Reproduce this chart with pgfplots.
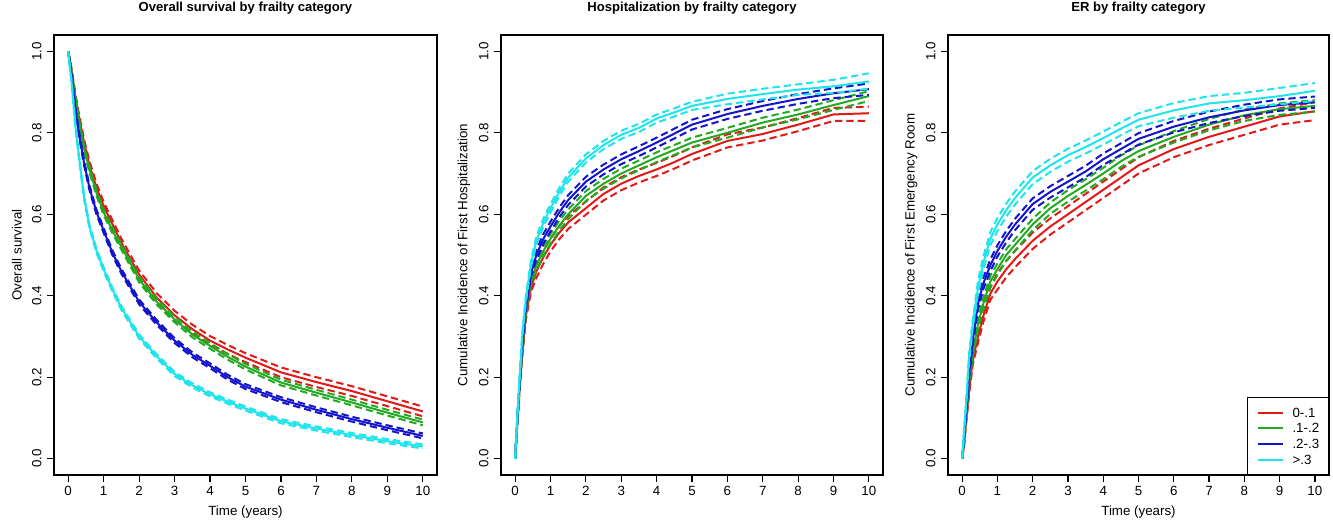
\documentclass[border=0pt]{standalone}
\usepackage{pgfplots}
\pgfplotsset{compat=1.18}
\usepackage{pgfplotstable}
\usepackage{fontspec}
\setmainfont{Liberation Sans}

\definecolor{cR}{RGB}{225,25,25}
\definecolor{cG}{RGB}{34,170,34}
\definecolor{cB}{RGB}{20,20,205}
\definecolor{cC}{RGB}{30,228,235}

% Overall survival
\pgfplotstableread{
t    rl   r    rh   gl   g    gh   bl   b    bh   cl   c    ch
0    1    1    1    1    1    1    1    1    1    1    1    1
0.05 .970 .975 .980 .971 .975 .979 .966 .970 .974 .957 .960 .963
0.1  .945 .950 .955 .944 .948 .952 .936 .940 .944 .917 .920 .923
0.2  .882 .890 .898 .878 .885 .892 .854 .860 .866 .815 .820 .825
0.3  .832 .840 .848 .823 .830 .837 .794 .800 .806 .740 .745 .750
0.45 .767 .775 .783 .753 .760 .767 .719 .725 .731 .635 .640 .645
0.6  .710 .720 .730 .703 .710 .717 .659 .665 .671 .565 .570 .575
0.8  .655 .665 .675 .645 .652 .659 .599 .605 .611 .505 .510 .515
1    .610 .620 .630 .598 .605 .612 .554 .560 .566 .460 .465 .470
1.25 .565 .575 .585 .553 .560 .567 .499 .505 .511 .410 .415 .420
1.5  .520 .530 .540 .513 .520 .527 .454 .460 .466 .365 .370 .375
2    .442 .452 .462 .433 .440 .447 .379 .385 .391 .295 .300 .305
2.5  .384 .395 .406 .378 .385 .392 .328 .334 .340 .246 .251 .256
3    .341 .352 .363 .335 .342 .349 .284 .290 .296 .203 .208 .213
3.5  .307 .318 .329 .298 .305 .312 .249 .255 .261 .175 .180 .185
4    .279 .290 .301 .270 .277 .284 .222 .228 .234 .153 .158 .163
4.5  .257 .268 .279 .243 .250 .257 .194 .200 .206 .135 .140 .145
5    .237 .248 .259 .219 .226 .233 .171 .177 .183 .118 .123 .128
6    .200 .212 .224 .180 .187 .194 .139 .145 .151 .087 .092 .097
7    .176 .188 .200 .155 .162 .169 .114 .120 .126 .069 .074 .079
8    .154 .166 .178 .131 .138 .145 .091 .097 .103 .053 .058 .063
9    .129 .141 .153 .106 .113 .120 .070 .076 .082 .038 .043 .048
10   .104 .116 .128 .082 .089 .096 .050 .056 .062 .025 .030 .035
}\survtab

% Hospitalization
\pgfplotstableread{
t    rl   r    rh   gl   g    gh   bl   b    bh   cl   c    ch
0    0    0    0    0    0    0    0    0    0    0    0    0
0.05 .065 .070 .075 .070 .075 .080 .075 .080 .085 .080 .085 .090
0.1  .135 .140 .145 .145 .150 .155 .145 .150 .155 .155 .160 .165
0.2  .250 .260 .270 .262 .270 .278 .272 .280 .288 .292 .300 .308
0.3  .340 .350 .360 .352 .360 .368 .362 .370 .378 .382 .390 .398
0.45 .410 .420 .430 .427 .435 .443 .447 .455 .463 .472 .480 .488
0.6  .444 .460 .476 .463 .475 .487 .488 .500 .512 .525 .535 .545
0.8  .479 .495 .511 .498 .510 .522 .528 .540 .552 .570 .580 .590
1    .509 .525 .541 .528 .540 .552 .558 .570 .582 .605 .615 .625
1.25 .539 .555 .571 .560 .572 .584 .593 .605 .617 .645 .655 .665
1.5  .564 .580 .596 .588 .600 .612 .623 .635 .647 .680 .690 .700
2    .599 .615 .631 .633 .645 .657 .668 .680 .692 .727 .737 .747
2.5  .634 .650 .666 .663 .675 .687 .698 .710 .722 .760 .770 .780
3    .659 .675 .691 .688 .700 .712 .723 .735 .747 .785 .795 .805
3.5  .678 .694 .710 .708 .720 .732 .743 .755 .767 .802 .812 .822
4    .694 .710 .726 .728 .740 .752 .764 .776 .788 .825 .835 .845
4.5  .712 .728 .744 .746 .758 .770 .786 .798 .810 .840 .850 .860
5    .732 .748 .764 .764 .776 .788 .808 .820 .832 .856 .866 .876
6    .764 .780 .796 .788 .800 .812 .834 .846 .858 .870 .883 .896
7    .781 .797 .813 .813 .825 .837 .854 .866 .878 .882 .895 .908
8    .804 .820 .836 .833 .845 .857 .871 .883 .895 .893 .906 .919
9    .829 .845 .861 .856 .868 .880 .885 .897 .909 .898 .914 .930
10   .829 .848 .864 .878 .890 .902 .893 .907 .921 .908 .926 .946
}\hosptab

% Emergency room
\pgfplotstableread{
t    rl   r    rh   gl   g    gh   bl   b    bh   cl   c    ch
0    0    0    0    0    0    0    0    0    0    0    0    0
0.05 .025 .030 .035 .035 .040 .045 .045 .050 .055 .055 .060 .065
0.1  .075 .080 .085 .085 .090 .095 .095 .100 .105 .115 .120 .125
0.2  .160 .170 .180 .180 .190 .200 .200 .210 .220 .240 .250 .260
0.3  .230 .240 .250 .250 .260 .270 .280 .290 .300 .320 .330 .340
0.45 .285 .300 .315 .316 .330 .344 .366 .380 .394 .404 .420 .436
0.6  .335 .350 .365 .366 .380 .394 .416 .430 .444 .464 .480 .496
0.8  .390 .405 .420 .421 .435 .449 .461 .475 .489 .524 .540 .556
1    .415 .435 .455 .451 .465 .479 .496 .510 .524 .559 .575 .591
1.25 .445 .465 .485 .486 .500 .514 .531 .545 .559 .594 .610 .626
1.5  .470 .490 .510 .511 .525 .539 .561 .575 .589 .624 .640 .656
2    .515 .535 .555 .561 .575 .589 .611 .625 .639 .674 .690 .706
2.5  .550 .570 .590 .601 .615 .629 .641 .655 .669 .704 .720 .736
3    .580 .600 .620 .631 .645 .659 .666 .680 .694 .729 .745 .761
3.5  .610 .630 .650 .658 .672 .686 .691 .705 .719 .749 .765 .781
4    .640 .660 .680 .686 .700 .714 .721 .735 .749 .771 .787 .803
4.5  .670 .690 .710 .716 .730 .744 .746 .760 .774 .794 .810 .826
5    .700 .720 .740 .741 .755 .769 .771 .785 .799 .816 .832 .848
6    .740 .760 .780 .776 .790 .804 .801 .815 .829 .837 .855 .873
7    .770 .790 .810 .806 .820 .834 .824 .838 .852 .854 .872 .890
8    .795 .815 .835 .829 .843 .857 .841 .855 .869 .862 .880 .898
9    .820 .840 .860 .844 .858 .872 .854 .868 .882 .870 .890 .910
10   .831 .853 .875 .852 .866 .880 .861 .875 .889 .878 .903 .922
}\ertab

\pgfplotsset{
  km/.style={
    scale only axis, height=330pt,
    xmin=-0.4, xmax=10.4, ymin=-0.04, ymax=1.04,
    xtick={0,1,2,3,4,5,6,7,8,9,10},
    ytick={0,0.2,0.4,0.6,0.8,1},
    xtick pos=bottom, ytick pos=left,
    tick align=outside, major tick length=5.25pt,
    axis line style={black, line width=0.9pt},
    every tick/.style={black, line width=0.9pt},
    /pgf/number format/assume math mode=true,
    tick label style={font=\fontsize{10}{12}\selectfont, black},
    yticklabel style={/pgf/number format/.cd, fixed, fixed zerofill, precision=1, /tikz/.cd, rotate=90, anchor=south, inner sep=3.9pt},
    xticklabel style={anchor=north, inner sep=3pt},
    label style={font=\fontsize{10}{12}\selectfont},
    xlabel style={at={(axis description cs:0.5,-0.0834)}, anchor=center},
    ylabel style={at={(axis description cs:-0.097,0.5)}, anchor=center},
    title style={at={(axis description cs:0.5,1.0432)}, anchor=center, font=\bfseries\fontsize{9.8}{12}\selectfont},
  },
  sol/.style={line width=1.5pt},
  das/.style={line width=1.5pt, dash pattern=on 5.5pt off 3pt},
}

\newcommand{\grp}[5]{%
  \addplot[das,#5,forget plot] table[x=t,y=#2]{#1};
  \addplot[das,#5,forget plot] table[x=t,y=#4]{#1};
  \addplot[sol,#5] table[x=t,y=#3]{#1};
}

\begin{document}
\begin{tikzpicture}
\useasboundingbox (0,0) rectangle (999.75pt,390.75pt);

\begin{axis}[km, at={(40.5pt,34.5pt)}, anchor=south west, width=287.25pt,
  title={Overall survival by frailty category},
  xlabel={Time (years)}, ylabel={Overall survival}]
\grp{\survtab}{rl}{r}{rh}{cR}
\grp{\survtab}{gl}{g}{gh}{cG}
\grp{\survtab}{bl}{b}{bh}{cB}
\grp{\survtab}{cl}{c}{ch}{cC}
\end{axis}

\begin{axis}[km, at={(375.75pt,34.5pt)}, anchor=south west, width=286.5pt,
  title={Hospitalization by frailty category},
  ylabel={Cumulative Incidence of First Hospitalization}]
\grp{\hosptab}{rl}{r}{rh}{cR}
\grp{\hosptab}{gl}{g}{gh}{cG}
\grp{\hosptab}{bl}{b}{bh}{cB}
\grp{\hosptab}{cl}{c}{ch}{cC}
\end{axis}

\begin{axis}[km, at={(711pt,34.5pt)}, anchor=south west, width=285.75pt,
  title={ER by frailty category},
  xlabel={Time (years)}, ylabel={Cumulative Incidence of First Emergency Room},
  legend style={at={(axis description cs:1,0)}, anchor=south east, draw=black, line width=0.75pt,
    fill=white, font=\fontsize{10}{12}\selectfont, inner xsep=7pt, inner ysep=7.65pt, row sep=4.55pt,
    nodes={inner sep=0pt, text height=7.2pt, text depth=0pt}},
  legend cell align=left,
  legend image code/.code={\draw[#1, line width=1.5pt, solid] (0pt,0pt) -- (18.75pt,0pt); \path (25.5pt,0pt);}]
\grp{\ertab}{rl}{r}{rh}{cR}
\addlegendentry{0-.1}
\grp{\ertab}{gl}{g}{gh}{cG}
\addlegendentry{.1-.2}
\grp{\ertab}{bl}{b}{bh}{cB}
\addlegendentry{.2-.3}
\grp{\ertab}{cl}{c}{ch}{cC}
\addlegendentry{>.3}
\end{axis}
\end{tikzpicture}
\end{document}
